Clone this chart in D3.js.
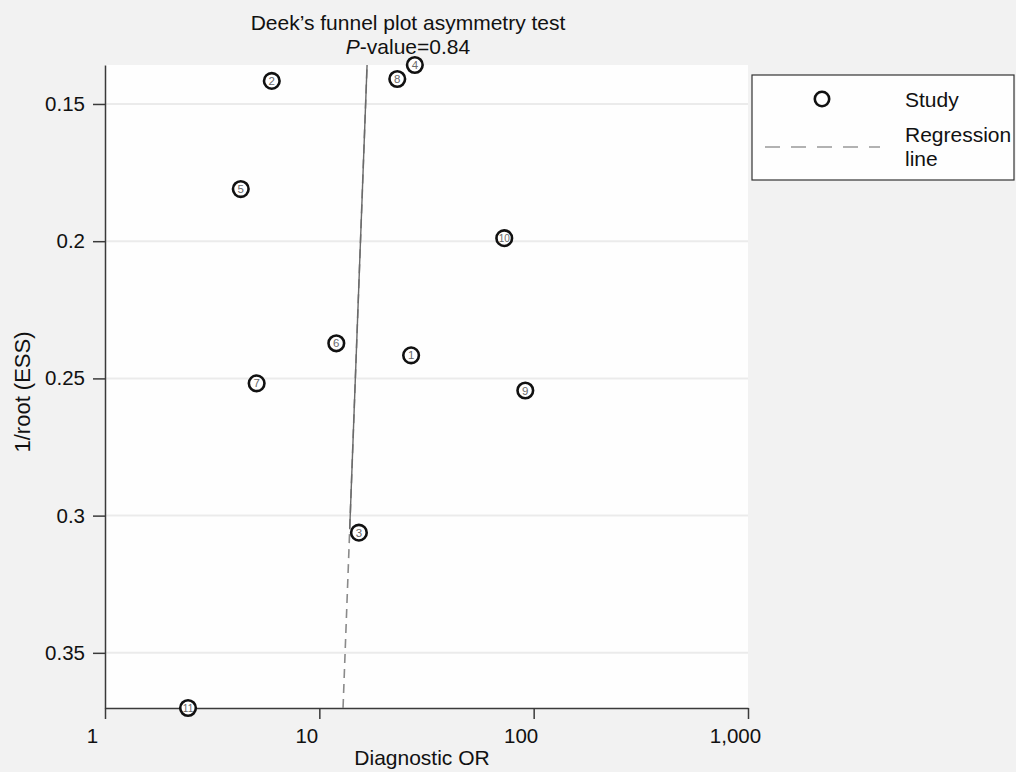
<!DOCTYPE html>
<html><head><meta charset="utf-8">
<script src="https://cdnjs.cloudflare.com/ajax/libs/d3/7.8.5/d3.min.js"></script>
<style>body{margin:0;background:#f2f2f2;}svg{display:block;}</style>
</head><body>
<svg id="c" width="1016" height="772"></svg>
<script>
const studyIds = ["1","2","3","4","5","6","7","8","9","10","11"];
const diagOR =   [26.8, 6.0, 15.3, 27.9, 4.3, 12.0, 5.1, 23.1, 91.4, 72.9, 2.44];
const invRootESS = [0.2416, 0.1416, 0.3062, 0.1358, 0.1810, 0.2372, 0.2518, 0.1409, 0.2544, 0.1989, 0.3701];
const xTicks = [1, 10, 100, 1000];
const xTickLabels = ["1", "10", "100", "1,000"];
const yTicks = [0.15, 0.2, 0.25, 0.3, 0.35];
const yTickLabels = ["0.15", "0.2", "0.25", "0.3", "0.35"];
const regOR = [12.9, 16.7];
const regY = [0.3701, 0.1358];
const regSolidFrom = 0.305;

const FONT = "Arial, 'Liberation Sans', sans-serif";
const svg = d3.select("#c");
const L = 105, R = 748, T = 65, B = 708;
const x = d3.scaleLog().domain([1, 1000]).range([L, R]);
const y = d3.scaleLinear().domain([0.1358, 0.3701]).range([T, B]);

svg.append("rect").attr("x", L).attr("y", T).attr("width", R - L).attr("height", B - T).attr("fill", "#fefefe");

// gridlines
svg.append("g").selectAll("line").data(yTicks).join("line")
  .attr("x1", L).attr("x2", R).attr("y1", d => y(d)).attr("y2", d => y(d))
  .attr("stroke", "#ebebeb").attr("stroke-width", 2);

// axes
const axisColor = "#3a3a3a";
const ya = svg.append("g").attr("transform", `translate(${L},0)`)
  .call(d3.axisLeft(y).tickValues(yTicks).tickFormat((d, i) => yTickLabels[i]).tickSize(12).tickSizeOuter(0));
ya.select(".domain").attr("stroke", axisColor).attr("stroke-width", 1.5);
ya.selectAll(".tick line").attr("stroke", axisColor).attr("stroke-width", 1.5);
ya.selectAll(".tick text").attr("font-family", FONT).attr("font-size", 20.5).attr("fill", "#111").attr("x", -20);

const xa = svg.append("g").attr("transform", `translate(0,${B})`)
  .call(d3.axisBottom(x).tickValues(xTicks).tickFormat((d, i) => xTickLabels[i]).tickSize(11).tickSizeOuter(0));
xa.select(".domain").attr("stroke", axisColor).attr("stroke-width", 1.5);
xa.selectAll(".tick line").attr("stroke", axisColor).attr("stroke-width", 1.5);
xa.selectAll(".tick text").attr("font-family", FONT).attr("font-size", 20.5).attr("fill", "#111")
  .attr("y", 35).attr("dy", 0).attr("dx", -13);

// axis titles
svg.append("text").attr("x", 422).attr("y", 765).attr("text-anchor", "middle")
  .attr("font-family", FONT).attr("font-size", 21).attr("fill", "#111").text("Diagnostic OR");
svg.append("text").attr("transform", "translate(30,392) rotate(-90)").attr("text-anchor", "middle")
  .attr("font-family", FONT).attr("font-size", 22).attr("fill", "#111").text("1/root (ESS)");

// title
svg.append("text").attr("x", 408).attr("y", 30).attr("text-anchor", "middle")
  .attr("font-family", FONT).attr("font-size", 21).attr("fill", "#111").text("Deek\u2019s funnel plot asymmetry test");
const t2 = svg.append("text").attr("x", 408).attr("y", 54).attr("text-anchor", "middle")
  .attr("font-family", FONT).attr("font-size", 21).attr("fill", "#111");
t2.append("tspan").attr("font-style", "italic").text("P");
t2.append("tspan").text("-value=0.84");

// regression line
const lx = d3.scaleLinear().domain(regY).range(regOR.map(v => Math.log10(v)));
svg.append("line")
  .attr("x1", x(regOR[0])).attr("y1", y(regY[0])).attr("x2", x(regOR[1])).attr("y2", y(regY[1]))
  .attr("stroke", "#8a8a8a").attr("stroke-width", 1.6).attr("stroke-dasharray", "9,6");
svg.append("line")
  .attr("x1", x(Math.pow(10, lx(regSolidFrom)))).attr("y1", y(regSolidFrom))
  .attr("x2", x(regOR[1])).attr("y2", y(regY[1]))
  .attr("stroke", "#6a6a6a").attr("stroke-width", 1.4);

// points
const pts = studyIds.map((id, i) => ({ id, or: diagOR[i], v: invRootESS[i] }));
const g = svg.append("g").selectAll("g").data(pts).join("g")
  .attr("transform", d => `translate(${x(d.or)},${y(d.v)})`);
g.append("circle").attr("r", 7.8).attr("fill", "#fff").attr("stroke", "#111").attr("stroke-width", 2.6);
g.append("text").attr("text-anchor", "middle").attr("dy", "0.36em")
  .attr("font-family", FONT).attr("font-size", d => d.id.length > 1 ? 10 : 11.5)
  .attr("fill", "#6a6a6a").text(d => d.id);

// legend
const lg = svg.append("g");
lg.append("rect").attr("x", 752).attr("y", 75).attr("width", 262).attr("height", 105)
  .attr("fill", "#fefefe").attr("stroke", "#333").attr("stroke-width", 1.2);
lg.append("circle").attr("cx", 822).attr("cy", 99).attr("r", 7.2).attr("fill", "#fff").attr("stroke", "#111").attr("stroke-width", 2.6);
lg.append("text").attr("x", 905).attr("y", 107).attr("font-family", FONT).attr("font-size", 21).attr("fill", "#111").text("Study");
lg.append("line").attr("x1", 765).attr("x2", 880).attr("y1", 147).attr("y2", 147)
  .attr("stroke", "#999").attr("stroke-width", 1.6).attr("stroke-dasharray", "15,11");
lg.append("text").attr("x", 905).attr("y", 142).attr("font-family", FONT).attr("font-size", 21).attr("fill", "#111").text("Regression");
lg.append("text").attr("x", 905).attr("y", 166).attr("font-family", FONT).attr("font-size", 21).attr("fill", "#111").text("line");
</script>
</body></html>
